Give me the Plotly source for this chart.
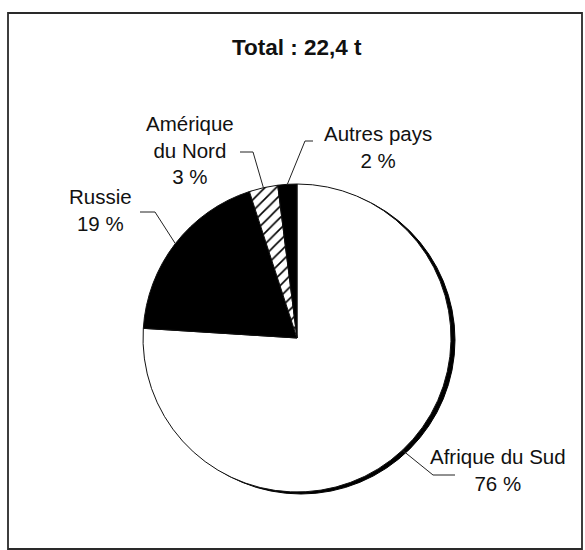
import math
import plotly.graph_objects as go

# ---- data ----
labels = ["Afrique du Sud", "Russie", "Amérique du Nord", "Autres pays"]
label_lines = ["Afrique du Sud", "Russie", "Amérique<br>du Nord", "Autres pays"]
values = [76, 19, 3, 2]
title_text = "Total : 22,4 t"

# ---- styling / layout ----
W, H = 585, 550
CX, CY, R = 297, 338, 154          # pie centre and radius in pixels
SHADOW_DX, SHADOW_DY = 4, 2
fill_colors = ["white", "black", "white", "black"]
patterns = ["", "", "/", ""]
FONT = "Liberation Sans, Arial, sans-serif"

# per label: text centre (px), elbow (px), end of horizontal tick (px)
label_layout = [
    dict(text=(498, 470), elbow=(433, 475), end=(455, 475)),
    dict(text=(100, 210), elbow=(155, 212), end=(140, 212)),
    dict(text=(190, 150), elbow=(253, 152), end=(240, 152)),
    dict(text=(378, 147), elbow=(305, 141), end=(313, 141)),
]


def paper(x, y):
    return x / W, 1 - y / H


dom_x = [(CX - R) / W, (CX + R) / W]
dom_y = [1 - (CY + R) / H, 1 - (CY - R) / H]

fig = go.Figure()

# shadow disc
fig.add_trace(go.Pie(
    values=[1], labels=["shadow"], sort=False, textinfo="none", hoverinfo="skip",
    marker=dict(colors=["black"], line=dict(color="black", width=1)),
    domain=dict(x=[dom_x[0] + SHADOW_DX / W, dom_x[1] + SHADOW_DX / W],
                y=[dom_y[0] - SHADOW_DY / H, dom_y[1] - SHADOW_DY / H]),
    showlegend=False,
))

fig.add_trace(go.Pie(
    values=values, labels=labels, sort=False, direction="clockwise", rotation=0,
    textinfo="none", hoverinfo="label+percent",
    marker=dict(colors=fill_colors, line=dict(color="#111", width=1),
                pattern=dict(shape=patterns, fgcolor="black", size=8, solidity=0.2)),
    domain=dict(x=dom_x, y=dom_y),
    showlegend=False,
))

shapes = []
annotations = []
total = sum(values)
cum = 0
for i, v in enumerate(values):
    mid = (cum + v / 2) / total * 2 * math.pi
    cum += v
    ex = CX + R * math.sin(mid)
    ey = CY - R * math.cos(mid)
    lay = label_layout[i]
    p0 = paper(ex, ey)
    p1 = paper(*lay["elbow"])
    p2 = paper(*lay["end"])
    shapes.append(dict(
        type="path", xref="paper", yref="paper",
        path=f"M {p0[0]},{p0[1]} L {p1[0]},{p1[1]} L {p2[0]},{p2[1]}",
        line=dict(color="#222", width=1),
    ))
    tx, ty = paper(*lay["text"])
    annotations.append(dict(
        x=tx, y=ty, xref="paper", yref="paper", xanchor="center", yanchor="middle",
        text=f"{label_lines[i]}<br>{v} %", showarrow=False, align="center",
        font=dict(family=FONT, size=20.5, color="#111"),
    ))

# frame
bx0, by0 = paper(8, 13)
bx1, by1 = paper(582, 549)
shapes.append(dict(type="rect", xref="paper", yref="paper", x0=bx0, y0=by0, x1=bx1, y1=by1,
                   line=dict(color="#2a2a2a", width=1.8), layer="below"))

tx, ty = paper(297, 47)
annotations.append(dict(
    x=tx, y=ty, xref="paper", yref="paper", xanchor="center", yanchor="middle",
    text=f"<b>{title_text}</b>", showarrow=False,
    font=dict(family=FONT, size=22.5, color="#111"),
))

fig.update_layout(
    width=W, height=H, margin=dict(l=0, r=0, t=0, b=0),
    paper_bgcolor="white", plot_bgcolor="white",
    shapes=shapes, annotations=annotations, showlegend=False,
)

fig.write_html(
    "out.html",
    config={"displayModeBar": False},
    post_script="document.body.style.margin='0';document.body.style.padding='0';"
                "document.body.style.overflow='hidden';",
)
